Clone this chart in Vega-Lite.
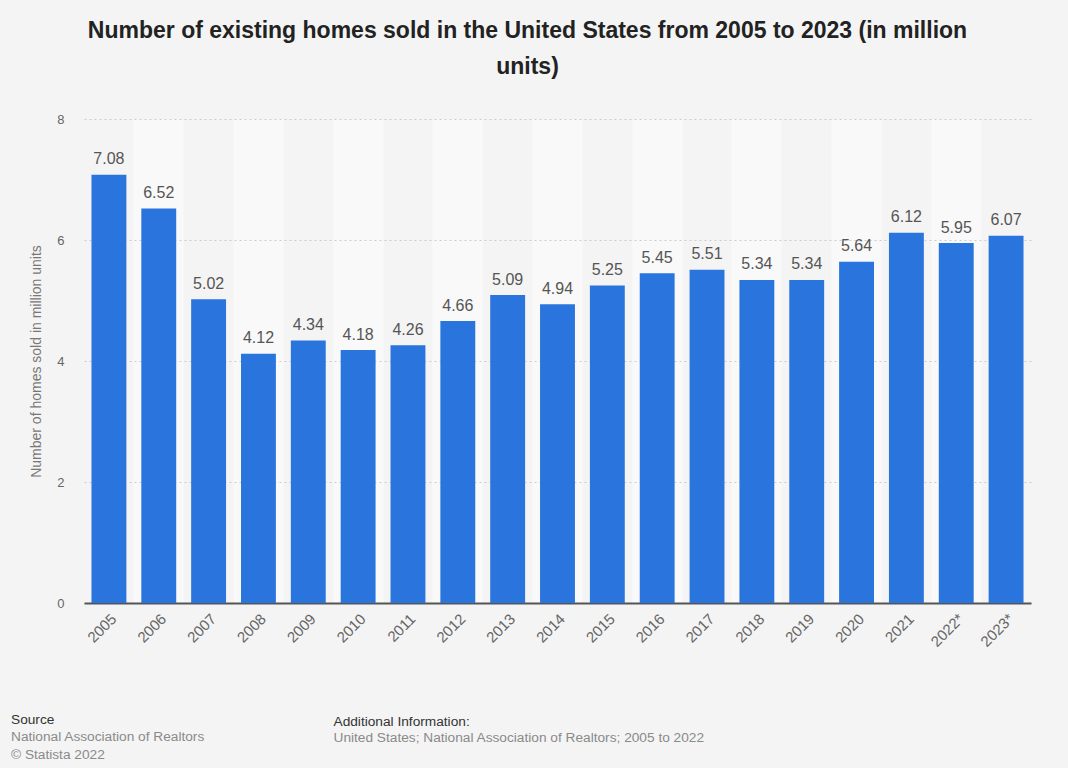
{
  "$schema": "https://vega.github.io/schema/vega-lite/v6.json",
  "autosize": "none",
  "width": 947,
  "height": 484,
  "padding": {"left": 84, "top": 119, "right": 37, "bottom": 165},
  "background": "#f4f4f4",
  "config": {"view": {"stroke": null}, "font": "Liberation Sans"},
  "title": {
    "text": "Source",
    "subtitle": ["National Association of Realtors", "© Statista 2022"],
    "orient": "bottom",
    "anchor": "start",
    "frame": "group",
    "dx": -73,
    "offset": -31,
    "fontSize": 13.7,
    "fontWeight": "normal",
    "color": "#333333",
    "subtitleFontSize": 13.7,
    "subtitleColor": "#8a8a8a",
    "subtitleLineHeight": 18,
    "subtitlePadding": 4
  },
  "data": {
    "values": [
      {"year": "2005", "homes": 7.08},
      {"year": "2006", "homes": 6.52},
      {"year": "2007", "homes": 5.02},
      {"year": "2008", "homes": 4.12},
      {"year": "2009", "homes": 4.34},
      {"year": "2010", "homes": 4.18},
      {"year": "2011", "homes": 4.26},
      {"year": "2012", "homes": 4.66},
      {"year": "2013", "homes": 5.09},
      {"year": "2014", "homes": 4.94},
      {"year": "2015", "homes": 5.25},
      {"year": "2016", "homes": 5.45},
      {"year": "2017", "homes": 5.51},
      {"year": "2018", "homes": 5.34},
      {"year": "2019", "homes": 5.34},
      {"year": "2020", "homes": 5.64},
      {"year": "2021", "homes": 6.12},
      {"year": "2022*", "homes": 5.95},
      {"year": "2023*", "homes": 6.07}
    ]
  },
  "resolve": {"axis": {"x": "independent", "y": "independent"}},
  "layer": [
    {
      "mark": {"type": "bar", "color": "#2a74dd"},
      "encoding": {
        "x": {
          "field": "year",
          "type": "nominal",
          "sort": null,
          "scale": {"paddingInner": 0.3, "paddingOuter": 0.15},
          "axis": {
            "orient": "bottom",
            "labelAngle": -45,
            "labelFontSize": 15,
            "labelColor": "#666666",
            "labelPadding": 8,
            "ticks": false,
            "domain": true,
            "domainColor": "#555555",
            "domainWidth": 2,
            "grid": true,
            "gridWidth": 49.84,
            "gridDash": [],
            "gridColor": "#f9f9f9",
            "bandPosition": 0.5,
            "gridOpacity": {
              "condition": {
                "test": "indexof(['2006','2008','2010','2012','2014','2016','2018','2020','2022*'], datum.value) >= 0",
                "value": 1
              },
              "value": 0
            },
            "title": "Additional Information:",
            "titleFontSize": 13.7,
            "titleFontWeight": "normal",
            "titleColor": "#333333",
            "titleAlign": "left",
            "titleBaseline": "alphabetic",
            "titleX": 249,
            "titleY": 122
          }
        },
        "y": {
          "field": "homes",
          "type": "quantitative",
          "scale": {"domain": [0, 8], "nice": false},
          "axis": {
            "orient": "left",
            "values": [0, 2, 4, 6, 8],
            "labelFontSize": 13,
            "labelColor": "#666666",
            "labelPadding": 20,
            "ticks": false,
            "domain": false,
            "grid": true,
            "gridColor": "#cccccc",
            "gridDash": [2, 3],
            "title": "Number of homes sold in million units",
            "titleFontSize": 14,
            "titleFontWeight": "normal",
            "titleColor": "#777777",
            "titlePadding": 13
          }
        }
      }
    },
    {
      "mark": {"type": "text", "baseline": "alphabetic", "dy": -10.5, "fontSize": 16, "color": "#555555"},
      "encoding": {
        "x": {
          "field": "year",
          "type": "nominal",
          "sort": null,
          "axis": {
            "orient": "top",
            "labels": false,
            "ticks": false,
            "domain": false,
            "grid": false,
            "title": ["Number of existing homes sold in the United States from 2005 to 2023 (in million", "units)"],
            "titleFontSize": 23,
            "titleFontWeight": "bold",
            "titleColor": "#222222",
            "titleLineHeight": 36,
            "titleAlign": "center",
            "titleBaseline": "alphabetic",
            "titleX": 443,
            "titleY": -82
          }
        },
        "y": {
          "field": "homes",
          "type": "quantitative",
          "axis": {
            "orient": "right",
            "labels": false,
            "ticks": false,
            "domain": false,
            "grid": false,
            "title": "United States; National Association of Realtors; 2005 to 2022",
            "titleAngle": 0,
            "titleFontSize": 13.7,
            "titleFontWeight": "normal",
            "titleColor": "#8a8a8a",
            "titleAlign": "left",
            "titleBaseline": "alphabetic",
            "titleX": -698,
            "titleY": 622
          }
        },
        "text": {"field": "homes", "type": "quantitative", "format": ".2f"}
      }
    }
  ]
}
